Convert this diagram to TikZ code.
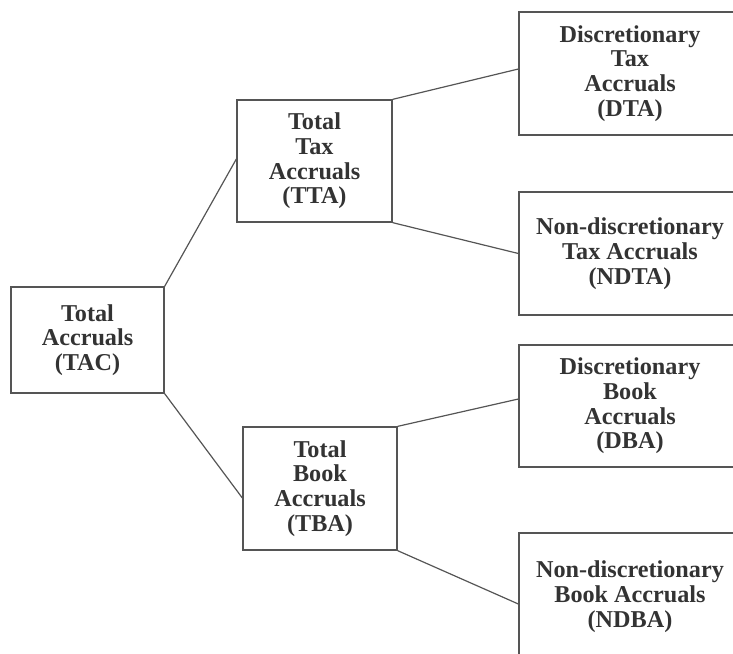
\documentclass[tikz,border=0pt]{standalone}
\usepackage{fontspec}
\setmainfont{Liberation Serif}
\definecolor{boxline}{HTML}{555555}
\definecolor{boxtext}{HTML}{333333}
\tikzset{
  accbox/.style={draw=boxline, line width=1.3pt, inner sep=0pt, align=center,
    text=boxtext, font=\fontsize{24.2}{24.7}\selectfont\bfseries},
  link/.style={draw=boxline, line width=1.2pt}
}
\begin{document}
\begin{tikzpicture}[x=1pt,y=-1pt]
\useasboundingbox (0,0) rectangle (733,653);
\clip (0,0) rectangle (733,653);

% left and middle boxes
 \node [accbox, minimum width=153pt, minimum height=106pt] (tac) at (87.5,340)   {Total\\Accruals\\(TAC)};
 \node [accbox, minimum width=155pt, minimum height=122pt] (tta) at (314.5,161)  {Total\\Tax\\Accruals\\(TTA)};
 \node [accbox, minimum width=154pt, minimum height=123pt] (tba) at (320,488.5)  {Total\\Book\\Accruals\\(TBA)};

% right boxes (cut by the page edge)
 \node [accbox, minimum width=222pt, minimum height=123pt] (dta)  at (630,73.5)  {Discretionary\\Tax\\Accruals\\(DTA)};
 \node [accbox, minimum width=222pt, minimum height=123pt] (ndta) at (630,253.5) {Non-discretionary\\Tax Accruals\\(NDTA)};
 \node [accbox, minimum width=222pt, minimum height=122pt] (dba)  at (630,406)   {Discretionary\\Book\\Accruals\\(DBA)};
 \node [accbox, minimum width=222pt, minimum height=127pt] (ndba) at (630,596.5) {Non-discretionary\\Book Accruals\\(NDBA)};

\draw [link] (tac.north east) -- ([yshift=2pt]tta.west);
\draw [link] (tac.south east) -- ([yshift=-9.5pt]tba.west);
\draw [link] (tta.north east) -- ([yshift=4.5pt]dta.west);
\draw [link] (tta.south east) -- (ndta.west);
\draw [link] (tba.north east) -- ([yshift=7pt]dba.west);
\draw [link] (tba.south east) -- ([yshift=-7.5pt]ndba.west);
\end{tikzpicture}
\end{document}
